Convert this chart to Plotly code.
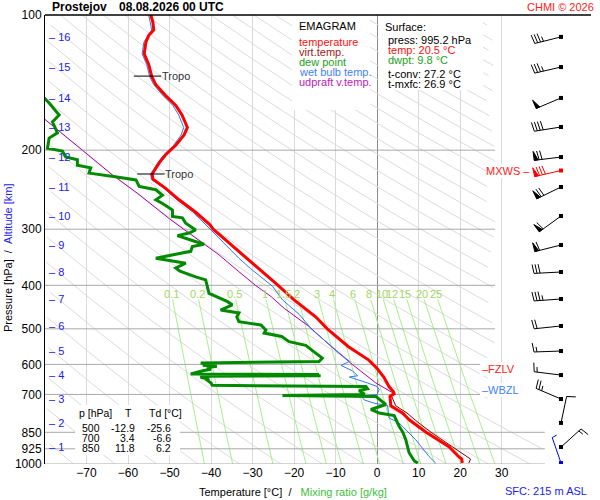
import numpy as np
import plotly.graph_objects as go

# ---------------- sounding data (pressure hPa / value °C) ----------------
temp_p = [100, 104, 108, 111, 115, 122, 129, 137, 143, 151, 159, 167, 178, 185, 195,
          205, 213, 220, 226, 232, 243, 258, 275, 293, 300, 317, 336, 367, 396, 431,
          470, 500, 548, 587, 613, 640, 673, 690, 697, 707, 742, 770, 798, 850, 915,
          962, 975, 995]
temp_t = [-54.5, -54.0, -53.8, -55.0, -55.7, -56.1, -55.0, -54.3, -53.3, -51.0, -48.5,
          -47.0, -45.7, -46.5, -48.5, -51.0, -52.4, -53.4, -54.2, -54.0, -51.0, -47.7,
          -43.7, -40.3, -39.5, -36.5, -33.3, -28.4, -24.4, -20.0, -14.8, -12.0, -6.9,
          -2.0, 0.0, 1.6, 2.9, 3.9, 4.1, 3.1, 3.3, 6.1, 7.8, 11.8, 17.3, 19.6, 20.4, 20.5]

virt_p = [690, 697, 707, 742, 770, 800, 850, 900, 950, 975, 995]
virt_t = [4.0, 4.2, 3.5, 4.5, 7.2, 9.3, 13.0, 17.0, 20.9, 22.5, 22.1]

dwpt_p = [150, 153, 157, 167, 173, 183, 188, 198, 201, 207, 210, 216, 219, 225, 229,
          233, 241, 245, 252, 258, 263, 272, 281, 283, 291, 301, 306, 310, 317, 324,
          328, 336, 348, 357, 366, 372, 383, 389, 402, 417, 435, 442, 454, 461, 470,
          482, 490, 503, 511, 520, 534, 544, 560, 581, 591, 596, 600, 603, 606, 610,
          615, 620, 630, 632, 634, 636, 638, 642, 646, 650, 660, 668, 672, 680, 686,
          700, 704, 707, 737, 756, 770, 780, 824, 850, 883, 944, 985, 995]
dwpt_t = [-82.0, -80.2, -79.0, -76.6, -78.2, -77.0, -79.0, -79.4, -75.8, -75.0, -72.2,
          -72.2, -69.0, -69.4, -63.5, -58.1, -57.3, -53.3, -51.7, -53.3, -51.7, -49.3,
          -49.3, -46.9, -46.1, -43.7, -45.3, -48.1, -44.9, -41.7, -44.5, -44.9, -53.3,
          -46.1, -48.5, -47.5, -43.7, -41.3, -40.9, -40.5, -36.0, -34.9, -37.7, -33.3,
          -33.8, -33.3, -28.0, -26.8, -27.2, -23.0, -21.2, -17.2, -15.5, -13.2, -14.0,
          -42.5, -40.5, -42.0, -38.6, -41.0, -40.0, -42.0, -44.9, -14.0, -41.0, -13.6,
          -42.0, -42.5, -40.5, -41.0, -40.0, -39.7, -2.7, -2.3, -4.3, -3.0, -22.8, -0.3,
          2.1, -1.5, 0.5, 4.1, 5.3, 6.2, 6.9, 7.7, 9.0, 9.8]

wetb_p = [100, 108, 115, 122, 129, 137, 143, 151, 159, 167, 178, 185, 195, 205, 213,
          226, 232, 243, 258, 275, 300, 317, 336, 348, 367, 402, 431, 464, 503, 557,
          591, 603, 620, 636, 640, 660, 672, 682, 700, 706, 720, 733, 740, 790, 810,
          883, 962, 995]
wetb_t = [-55.0, -54.3, -56.2, -56.6, -55.5, -54.8, -53.8, -51.6, -49.2, -47.8, -46.6,
          -47.2, -49.0, -51.4, -52.8, -54.5, -54.4, -51.4, -48.2, -44.3, -40.2, -37.6,
          -35.0, -33.3, -30.5, -25.2, -22.8, -18.8, -15.6, -10.0, -6.7, -8.7, -6.0, -4.7,
          -6.7, -2.3, 0.0, 0.5, 0.0, -3.9, -3.1, -0.5, 2.5, 2.9, 5.3, 9.3, 12.5, 14.1]

parcel_p = [697, 660, 600, 548, 494, 450, 424, 400, 373, 342, 300, 284, 250, 227, 200,
            171, 165]
parcel_t = [4.1, -0.3, -6.0, -11.0, -16.4, -22.4, -25.5, -29.3, -33.3, -38.1, -46.6,
            -50.1, -57.6, -63.8, -71.0, -80.2, -82.0]

# altitude marks (km) and the pressure they sit at
alt_km = [1, 2, 3, 4, 5, 6, 7, 8, 9, 10, 11, 12, 13, 14, 15, 16]
alt_p = [916.6, 810.0, 716.5, 633.7, 560.3, 492.7, 429.1, 373.6, 325.3, 280.3, 241.6,
         207.2, 177.6, 153.0, 130.6, 111.9]

# winds at the altitude marks (deg, kt)
wind_dir = [48, 12, 293, 277, 268, 264, 266, 267, 256, 234, 244, 263, 261, 247, 257, 256]
wind_spd = [15, 10, 25, 15, 15, 20, 35, 30, 60, 60, 70, 70, 40, 50, 35, 35]
sfc_p, sfc_dir, sfc_spd = 995.2, 341, 5
mxws_p, mxws_dir, mxws_spd = 222.0, 257, 80

tropo_p = [136.8, 226.0]
tropo_t = [-55.3, -54.5]
fzlv_p, wbzl_p = 615.0, 684.0

mix_ratio = [0.1, 0.2, 0.5, 1, 1.5, 2, 3, 4, 6, 8, 10, 12, 15, 20, 25]
mix_labels = ["0.1", "0.2", "0.5", "1", "1.5", "2", "3", "4", "6", "8", "10", "12", "15", "20", "25"]
isobars = [200, 300, 400, 500, 600, 700, 850, 925, 1000]
p_ticks = [100, 200, 300, 400, 500, 600, 700, 850, 925, 1000]
t_ticks = [-70, -60, -50, -40, -30, -20, -10, 0, 10, 20, 30]

tab_p = ["500", "700", "850"]
tab_t = ["-12.9", "3.4", "11.8"]
tab_td = ["-25.6", "-6.6", "6.2"]

# ---------------- geometry ----------------
W, H = 600, 500
ML, MR, MT, MB = 45, 7, 15, 36
X0, X1 = -80, 52
PW, PH = W - ML - MR, H - MT - MB
PX_T = PW / (X1 - X0)
BARB_T = X0 + (561 - ML) / PX_T

GRID = "#dadada"
FONT = "Liberation Sans, Arial, sans-serif"


def paper(x, y):
    return (x - ML) / PW, (H - MB - y) / PH


fig = go.Figure()

# dry adiabats
ax, ay = [], []
pp = np.logspace(2, 3, 90)
for th in range(200, 600, 10):
    for p in pp:
        t = th * (p / 1000.0) ** 0.2857 - 273.15
        lim = 28.5 if p < 830 else 40.5
        if -80 <= t <= lim:
            ax.append(t)
            ay.append(p)
        else:
            ax.append(None)
            ay.append(None)
    ax.append(None)
    ay.append(None)
fig.add_trace(go.Scatter(x=ax, y=ay, mode="lines", line=dict(color="#dcdcdc", width=1),
                         hoverinfo="skip", connectgaps=False))

# mixing ratio lines
mx, my = [], []
pm = np.linspace(430, 1000, 30)
for w in mix_ratio:
    e = w * pm / (622.0 + w)
    g = np.log(e / 6.112)
    td = 243.5 * g / (17.67 - g)
    mx += list(td) + [None]
    my += list(pm) + [None]
fig.add_trace(go.Scatter(x=mx, y=my, mode="lines", line=dict(color="#a6f08a", width=1),
                         hoverinfo="skip"))

# isobars
ix, iy = [], []
for p in isobars:
    ix += [X0, 28.4 if p < 830 else 40.4, None]
    iy += [p, p, None]
fig.add_trace(go.Scatter(x=ix, y=iy, mode="lines", line=dict(color="#a9a9a9", width=1),
                         hoverinfo="skip"))

# profiles
fig.add_trace(go.Scatter(x=parcel_t, y=parcel_p, mode="lines", line=dict(color="#aa00aa", width=1)))
fig.add_trace(go.Scatter(x=wetb_t, y=wetb_p, mode="lines", line=dict(color="#2f78f0", width=1)))
fig.add_trace(go.Scatter(x=dwpt_t, y=dwpt_p, mode="lines", line=dict(color="#008a00", width=3)))
fig.add_trace(go.Scatter(x=virt_t, y=virt_p, mode="lines", line=dict(color="#8b0000", width=1)))
fig.add_trace(go.Scatter(x=temp_t, y=temp_p, mode="lines", line=dict(color="#ff0000", width=3)))

# tropopause marks
tx, ty = [], []
for p, t in zip(tropo_p, tropo_t):
    tx += [t - 3.3, t + 3.3, None]
    ty += [p, p, None]
    fig.add_annotation(x=t + 3.0, y=np.log10(p), xref="x", yref="y", text="Tropo",
                       showarrow=False, xanchor="left", yanchor="middle",
                       font=dict(size=11, color="#333333"))
fig.add_trace(go.Scatter(x=tx, y=ty, mode="lines", line=dict(color="black", width=1)))


# wind barbs
STAFF, GAP, FULL, HALF = 27.0, 3.0, 9.0, 5.0


def barb(p0, wdir, wspd):
    a = np.radians(wdir)
    ux, uy = np.sin(a), -np.cos(a)
    fx, fy = -uy, ux
    segs = [[(0, 0), (STAFF * ux, STAFF * uy)]]
    tris = []
    n50, r = divmod(int(wspd), 50)
    n10, r = divmod(r, 10)
    n5 = r // 5
    s = STAFF
    for _ in range(n50):
        tris.append([(s * ux, s * uy), ((s - 4) * ux, (s - 4) * uy),
                     (s * ux + FULL * fx, s * uy + FULL * fy)])
        s -= 5
    for _ in range(n10):
        segs.append([(s * ux, s * uy), (s * ux + FULL * fx + 1.5 * ux, s * uy + FULL * fy + 1.5 * uy)])
        s -= GAP
    for _ in range(n5):
        segs.append([(s * ux, s * uy), (s * ux + HALF * fx + 0.8 * ux, s * uy + HALF * fy + 0.8 * uy)])
        s -= GAP

    def conv(pts):
        return ([BARB_T + dx / PX_T for dx, dy in pts],
                [p0 * 10 ** (dy / PH) for dx, dy in pts])
    return [conv(sg) for sg in segs], [conv(tr) for tr in tris]


def add_barbs(levels, dirs, spds, color):
    lx, ly, fxs, fys = [], [], [], []
    for p0, d, s in zip(levels, dirs, spds):
        segs, tris = barb(p0, d, s)
        for sx, sy in segs:
            lx += sx + [None]
            ly += sy + [None]
        for sx, sy in tris:
            fxs += sx + [sx[0], None]
            fys += sy + [sy[0], None]
    fig.add_trace(go.Scatter(x=lx, y=ly, mode="lines", line=dict(color=color, width=1)))
    if fxs:
        fig.add_trace(go.Scatter(x=fxs, y=fys, mode="lines", fill="toself", fillcolor=color,
                                 line=dict(color=color, width=1)))
    fig.add_trace(go.Scatter(x=[BARB_T] * len(levels), y=levels, mode="markers",
                             marker=dict(symbol="square", size=4, color=color)))


add_barbs(alt_p, wind_dir, wind_spd, "black")
add_barbs([mxws_p], [mxws_dir], [mxws_spd], "#ff0000")
add_barbs([sfc_p], [sfc_dir], [sfc_spd], "#0000ee")

# white boxes for the text blocks
for x0, y0, x1, y1 in [(292, 16, 370, 110), (379, 16, 483, 90), (75, 405, 180, 455),
                       (480, 362, 522, 376), (480, 383, 515, 397), (486, 164, 520, 178)]:
    a0, b0 = paper(x0, y1)
    a1, b1 = paper(x1, y0)
    fig.add_shape(type="rect", xref="paper", yref="paper", x0=a0, y0=b0, x1=a1, y1=b1,
                  fillcolor="white", line=dict(width=0), layer="above")

fig.add_shape(type="line", xref="paper", yref="paper", x0=0, x1=(591 - ML) / PW, y0=1, y1=1,
              line=dict(color="black", width=1.5))


def label(x, y, text, color="black", size=11, xanchor="left", **kw):
    xp, yp = paper(x, y)
    fig.add_annotation(x=xp, y=yp, xref="paper", yref="paper", text=text, showarrow=False,
                       xanchor=xanchor, yanchor="middle", font=dict(size=size, color=color), **kw)


# titles
label(50, 7, "<b>Prostejov</b>", size=12)
label(117, 7, "<b>08.08.2026 00 UTC</b>", size=12)
label(596, 7, "CHMI © 2026", color="#ff2020", xanchor="right")
label(589, 491, "SFC: 215 m ASL", color="#2222ee", xanchor="right")
label(197, 492, "Temperature [°C]\u00a0\u00a0/\u00a0\u00a0\u00a0<span style='color:#3cbf3c'>Mixing ratio [g/kg]</span>")
label(8, 258, "Pressure [hPa]\u00a0\u00a0/\u00a0\u00a0<span style='color:#2222ee'>Altitude [km]</span>",
      xanchor="center", textangle=-90)

# legend block
legend_rows = [("EMAGRAM", "black", 26), ("temperature", "#ff1010", 42), ("virt.temp.", "#a01818", 52),
               ("dew point", "#22a022", 62), ("wet bulb temp.", "#3f7fff", 72),
               ("udpraft v.temp.", "#c020c0", 82)]
for txt, col, yy in legend_rows:
    label(297, yy, txt, color=col)

# surface block
label(383, 27, "Surface:")
label(386, 40, "press: 995.2 hPa")
label(386, 50, "temp: 20.5 °C", color="#ff1010")
label(386, 60, "dwpt: 9.8 °C", color="#22a022")
label(386, 74, "t-conv: 27.2 °C")
label(386, 84, "t-mxfc: 26.9 °C")

# level table
label(77, 413, "p [hPa]", size=10.5)
label(128, 413, "T", xanchor="center", size=10.5)
label(147, 413, "Td [°C]", size=10.5)
for i in range(3):
    yy = 428 + 10 * i
    label(102, yy, tab_p[i], xanchor="right", size=10.5)
    label(137, yy, tab_t[i], xanchor="right", size=10.5)
    label(173, yy, tab_td[i], xanchor="right", size=10.5)

# altitude marks
for km, p in zip(alt_km, alt_p):
    fig.add_annotation(x=(47 - ML) / PW, y=np.log10(p), xref="paper", yref="y",
                       text="\u2013 " + str(km), showarrow=False, xanchor="left", yanchor="middle",
                       font=dict(size=11, color="#2020ee"))

# mixing ratio labels
for w, s in zip(mix_ratio, mix_labels):
    e = w * 418.0 / (622.0 + w)
    g = np.log(e / 6.112)
    fig.add_annotation(x=243.5 * g / (17.67 - g), y=np.log10(418.0), xref="x", yref="y",
                       text=s, showarrow=False, xanchor="center", yanchor="middle",
                       font=dict(size=11, color="#a0d860"))

# level markers on the right
fig.add_annotation(x=(532 - ML) / PW, y=np.log10(mxws_p), xref="paper", yref="y", text="MXWS \u2013",
                   showarrow=False, xanchor="right", yanchor="middle", font=dict(size=11, color="#ff2020"))
fig.add_annotation(x=(480 - ML) / PW, y=np.log10(fzlv_p), xref="paper", yref="y", text="\u2013FZLV",
                   showarrow=False, xanchor="left", yanchor="middle", font=dict(size=11, color="#ff2020"))
fig.add_annotation(x=(480 - ML) / PW, y=np.log10(wbzl_p), xref="paper", yref="y", text="\u2013WBZL",
                   showarrow=False, xanchor="left", yanchor="middle", font=dict(size=11, color="#3f7fff"))

fig.update_layout(
    width=W, height=H, margin=dict(l=ML, r=MR, t=MT, b=MB),
    paper_bgcolor="white", plot_bgcolor="white", showlegend=False,
    font=dict(family=FONT, size=12, color="black"),
    xaxis=dict(range=[X0, X1], tickvals=t_ticks, showgrid=True, gridcolor=GRID, gridwidth=1,
               zeroline=True, zerolinecolor="#8c8c8c", zerolinewidth=1, showline=False,
               ticks="", tickfont=dict(size=12), fixedrange=True),
    yaxis=dict(type="log", range=[3, 2], tickvals=p_ticks, ticktext=[str(v) for v in p_ticks],
               showgrid=False, zeroline=False, showline=True, linecolor="black", linewidth=1,
               ticks="", tickfont=dict(size=12), fixedrange=True),
)

fig.write_html("out.html", config={"displayModeBar": False},
               post_script="document.body.style.margin='0px';")
